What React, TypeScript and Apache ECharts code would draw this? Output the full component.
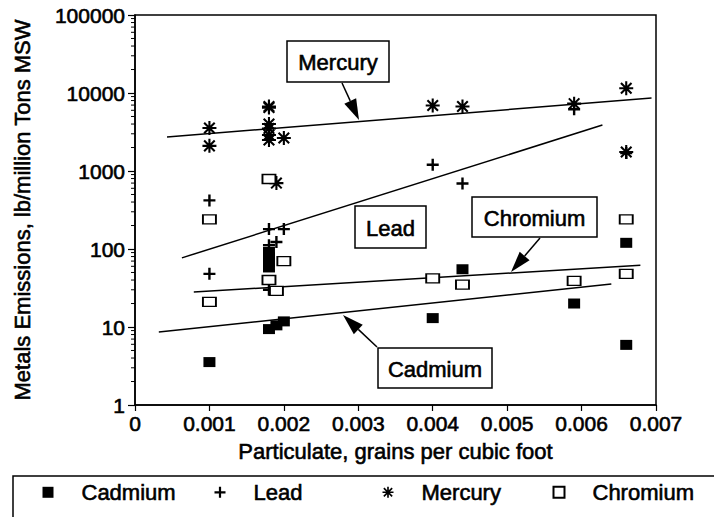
import { useEffect, useRef } from 'react';
import * as echarts from 'echarts';

// ---- Data ----
const xTicks = [0, 0.001, 0.002, 0.003, 0.004, 0.005, 0.006, 0.007];
const yTicks = [1, 10, 100, 1000, 10000, 100000];

const cadmium: number[][] = [
  [0.001, 3.55],
  [0.0018, 9.4], [0.0018, 92], [0.0018, 78], [0.0018, 68], [0.0018, 58],
  [0.0019, 10.5], [0.002, 11.8],
  [0.004, 13], [0.0044, 55],
  [0.0059, 20],
  [0.0066, 120], [0.0066, 5.9],
];
const lead: number[][] = [
  [0.001, 420], [0.001, 48],
  [0.0018, 180], [0.0018, 112], [0.0018, 30],
  [0.0019, 123], [0.002, 180],
  [0.004, 1200], [0.0044, 690],
  [0.0059, 6200],
  [0.0066, 1700],
];
const mercury: number[][] = [
  [0.001, 3560], [0.001, 2100],
  [0.0018, 6700], [0.0018, 6500], [0.0018, 4000], [0.0018, 3500], [0.0018, 2900], [0.0018, 2500],
  [0.0019, 700], [0.002, 2650],
  [0.004, 6900], [0.0044, 6700],
  [0.0059, 7300],
  [0.0066, 11500], [0.0066, 1750],
];
const chromium: number[][] = [
  [0.001, 240], [0.001, 21],
  [0.0018, 790], [0.0018, 40],
  [0.0019, 29], [0.002, 70],
  [0.004, 42], [0.0044, 35],
  [0.0059, 39],
  [0.0066, 240], [0.0066, 48],
];

// Fitted trend lines (end points)
const mercuryTrend: number[][] = [[0.00043, 2730], [0.00694, 8630]];
const leadTrend: number[][] = [[0.00063, 77], [0.00628, 3880]];
const chromiumTrend: number[][] = [[0.00079, 28], [0.00679, 62]];
const cadmiumTrend: number[][] = [[0.00032, 8.6], [0.0064, 35.6]];

const seriesNames = ['Cadmium', 'Lead', 'Mercury', 'Chromium'];
const minorMultipliers = [2, 3, 4, 5, 6, 7, 8, 9];

const FONT = '"Liberation Sans", Arial, Helvetica, sans-serif';
const INK = { textBorderColor: '#000', textBorderWidth: 0.6 };

const PLUS = 'path://M0 8H20V12H0Z M8 0H12V20H8Z';
const STAR =
  'path://M0 8.5H20V11.5H0Z M8.5 0H11.5V20H8.5Z M3.5 1.4L18.6 16.5L16.5 18.6L1.4 3.5Z M16.5 1.4L18.6 3.5L3.5 18.6L1.4 16.5Z';

type Note = { text: string; box: number[]; arrow: number[] | null };
const notes: Note[] = [
  { text: 'Mercury', box: [287, 41, 102, 41], arrow: [342, 83, 359, 120] },
  { text: 'Lead', box: [355, 206, 71, 42], arrow: null },
  { text: 'Chromium', box: [472, 197, 125, 40], arrow: [540, 238, 511, 272] },
  { text: 'Cadmium', box: [378, 348, 114, 40], arrow: [377, 347, 343, 315] },
];

const legendCenters = [48, 220, 388, 558];

function noteGraphics() {
  const els: any[] = [];
  notes.forEach((n) => {
    const [bx, by, bw, bh] = n.box;
    els.push({
      type: 'rect',
      shape: { x: bx, y: by, width: bw, height: bh },
      style: { fill: '#fff', stroke: '#000', lineWidth: 1.5 },
      z: 100,
    });
    els.push({
      type: 'text',
      x: bx + bw / 2,
      y: by + bh / 2 + 1,
      style: {
        text: n.text,
        font: `22px ${FONT}`,
        fill: '#000',
        stroke: '#000',
        lineWidth: 0.6,
        align: 'center',
        verticalAlign: 'middle',
      },
      z: 101,
    });
    if (n.arrow) {
      const [x1, y1, x2, y2] = n.arrow;
      const dx = x2 - x1;
      const dy = y2 - y1;
      const len = Math.sqrt(dx * dx + dy * dy);
      const ux = dx / len;
      const uy = dy / len;
      const headLen = 21;
      const half = 6.5;
      const bx2 = x2 - ux * headLen;
      const by2 = y2 - uy * headLen;
      els.push({
        type: 'line',
        shape: { x1, y1, x2: bx2, y2: by2 },
        style: { stroke: '#000', lineWidth: 1.5 },
        z: 100,
      });
      els.push({
        type: 'polygon',
        shape: {
          points: [
            [x2, y2],
            [bx2 - uy * half, by2 + ux * half],
            [bx2 + uy * half, by2 - ux * half],
          ],
        },
        style: { fill: '#000' },
        z: 100,
      });
    }
  });
  // legend frame
  els.push({
    type: 'rect',
    shape: { x: 13, y: 476, width: 720, height: 80 },
    style: { fill: 'none', stroke: '#000', lineWidth: 1.5 },
    z: 100,
  });
  return els;
}

export default function App() {
  const ref = useRef<HTMLDivElement>(null);

  useEffect(() => {
    if (!ref.current) return;
    const chart = echarts.init(ref.current, undefined, { renderer: 'svg' });

    const minorData: number[][] = [];
    for (let i = 0; i < yTicks.length - 1; i++) {
      minorMultipliers.forEach((m) => minorData.push([0, yTicks[i] * m]));
    }

    const trendLine = (data: number[][]) => ({
      type: 'line',
      data,
      symbol: 'none',
      lineStyle: { color: '#000', width: 1.5 },
      silent: true,
      z: 2,
    });

    const option: any = {
      animation: false,
      backgroundColor: '#fff',
      textStyle: { fontFamily: FONT },
      grid: {
        left: 135,
        right: 58,
        top: 15,
        bottom: 112,
        show: true,
        borderColor: '#000',
        borderWidth: 1.5,
        backgroundColor: 'transparent',
      },
      xAxis: {
        type: 'value',
        min: xTicks[0],
        max: xTicks[xTicks.length - 1],
        interval: 0.001,
        name: 'Particulate, grains per cubic foot',
        nameLocation: 'middle',
        nameGap: 35,
        nameTextStyle: { fontSize: 22, color: '#000', fontFamily: FONT, ...INK },
        axisLine: { lineStyle: { color: '#000', width: 1.5 } },
        axisTick: { show: true, length: 6, lineStyle: { color: '#000', width: 1.2 } },
        axisLabel: {
          fontSize: 21,
          color: '#000',
          fontFamily: FONT,
          margin: 8,
          ...INK,
          formatter: (v: number) => (v === 0 ? '0' : v.toFixed(3)),
        },
        splitLine: { show: false },
      },
      yAxis: {
        type: 'log',
        logBase: 10,
        min: yTicks[0],
        max: yTicks[yTicks.length - 1],
        interval: 1,
        name: 'Metals Emissions, lb/million Tons MSW',
        nameLocation: 'middle',
        nameGap: 102,
        nameTextStyle: { fontSize: 22, color: '#000', fontFamily: FONT, ...INK },
        axisLine: { lineStyle: { color: '#000', width: 1.5 } },
        axisTick: { show: true, length: 7, lineStyle: { color: '#000', width: 1.2 } },
        axisLabel: {
          fontSize: 21,
          color: '#000',
          fontFamily: FONT,
          margin: 10,
          ...INK,
          formatter: (v: number) => String(Math.round(v)),
        },
        splitLine: { show: false },
      },
      legend: seriesNames.map((name, i) => ({
        data: [{ name }],
        left: legendCenters[i] - 5.5,
        top: 481,
        padding: 0,
        itemWidth: 11,
        itemHeight: 11,
        selectedMode: false,
        textStyle: {
          fontSize: 22,
          color: '#000',
          fontFamily: FONT,
          padding: [0, 0, 0, 23],
          ...INK,
        },
      })),
      graphic: noteGraphics(),
      series: [
        trendLine(mercuryTrend),
        trendLine(leadTrend),
        trendLine(chromiumTrend),
        trendLine(cadmiumTrend),
        {
          type: 'custom',
          silent: true,
          clip: false,
          data: minorData,
          renderItem: (_p: any, api: any) => {
            const pt = api.coord([0, api.value(1)]);
            return {
              type: 'line',
              shape: { x1: pt[0] - 4, y1: pt[1], x2: pt[0], y2: pt[1] },
              style: { stroke: '#000', lineWidth: 1 },
            };
          },
        },
        {
          name: 'Cadmium',
          type: 'scatter',
          data: cadmium,
          symbol: 'rect',
          symbolSize: [12, 10],
          itemStyle: { color: '#000', opacity: 1 },
          z: 5,
        },
        {
          name: 'Lead',
          type: 'scatter',
          data: lead,
          symbol: PLUS,
          symbolSize: 12,
          itemStyle: { color: '#000', opacity: 1 },
          z: 5,
        },
        {
          name: 'Mercury',
          type: 'scatter',
          data: mercury,
          symbol: STAR,
          symbolSize: 14,
          itemStyle: { color: '#000', opacity: 1 },
          z: 5,
        },
        {
          name: 'Chromium',
          type: 'scatter',
          data: chromium,
          symbol: 'rect',
          symbolSize: [13, 9],
          itemStyle: { color: '#fff', borderColor: '#000', borderWidth: 1.6, opacity: 1 },
          z: 6,
        },
      ],
    };

    chart.setOption(option);
    return () => chart.dispose();
  }, []);

  return (
    <div
      ref={ref}
      style={{ position: 'fixed', left: 0, top: 0, width: 714, height: 517, background: '#fff' }}
    />
  );
}
